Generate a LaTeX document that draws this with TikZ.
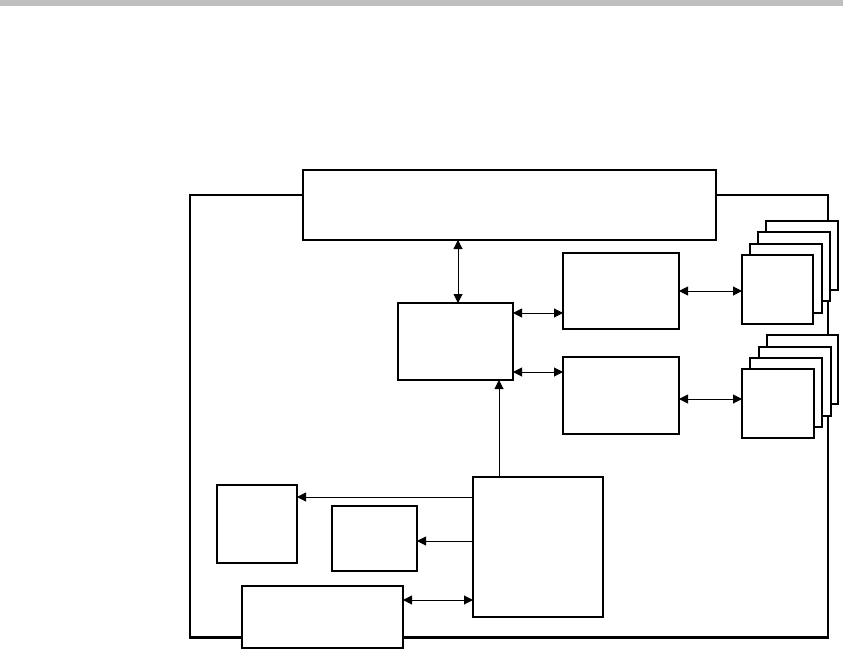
\documentclass[tikz,border=0pt]{standalone}
\usetikzlibrary{arrows.meta}
\begin{document}
\begin{tikzpicture}[x=1pt,y=-1pt,
  box/.style={draw=black,fill=white,line width=1.2pt,inner sep=0pt,outer sep=0pt,anchor=north west},
  tipstyle/.style={-{Triangle[length=9pt,width=9pt]}},
  dbl/.style={{Triangle[length=9pt,width=9pt]}-{Triangle[length=9pt,width=9pt]}},
  conn/.style={line width=1pt,black}]
\useasboundingbox (0,0) rectangle (843,650);
\fill[fill={rgb,255:red,191;green,191;blue,191}] (0,0) rectangle (843,6);
% outer frame
\draw[line width=1.2pt] (828,637) -- (190,637) -- (190,195) -- (828,195);
\draw[line width=2.4pt] (828,194) -- (828,638) -- (189,638);
% boxes
\node[box,minimum width=413pt,minimum height=70pt] (top) at (303,170) {};
\node[box,minimum width=115pt,minimum height=77pt] (A) at (398,303) {};
\node[box,minimum width=116pt,minimum height=76pt] (B) at (563,253) {};
\node[box,minimum width=116pt,minimum height=77pt] (C) at (563,357) {};
\node[box,minimum width=130pt,minimum height=140pt] (D) at (473,477) {};
\node[box,minimum width=80pt,minimum height=78pt] (E) at (217,485) {};
\node[box,minimum width=85pt,minimum height=65pt] (F) at (332,506) {};
\node[box,minimum width=161pt,minimum height=62pt] (G) at (242,586) {};
% stack 1
\node[box,minimum width=72pt,minimum height=69pt] (s1d) at (766,221) {};
\node[box,minimum width=72pt,minimum height=69pt] (s1c) at (758,232) {};
\node[box,minimum width=72pt,minimum height=69pt] (s1b) at (750,244) {};
\node[box,minimum width=71pt,minimum height=69pt] (s1) at (742,255) {};
% stack 2
\node[box,minimum width=71pt,minimum height=69pt] (s2d) at (767,335) {};
\node[box,minimum width=72pt,minimum height=69pt] (s2c) at (759,347) {};
\node[box,minimum width=72pt,minimum height=69pt] (s2b) at (750,358) {};
\node[box,minimum width=72pt,minimum height=69pt] (s2) at (742,369) {};
% connectors
\draw[conn,dbl] ([xshift=2.5pt]A.north |- top.south) -- ([xshift=2.5pt]A.north);
\draw[conn,dbl] ([yshift=28.5pt]A.east) -- ([yshift=28.5pt]A.east -| B.west);
\draw[conn,dbl] ([yshift=-30.5pt]A.east) -- ([yshift=-30.5pt]A.east -| C.west);
\draw[conn,dbl] (B.east) -- (B.east -| s1.west);
\draw[conn,dbl] ([yshift=-3.5pt]C.east) -- ([yshift=-3.5pt]C.east -| s2.west);
\draw[conn,tipstyle] ([xshift=43.5pt]A.south |- D.north) -- ([xshift=43.5pt]A.south);
\draw[conn,tipstyle] ([yshift=50pt]D.west) -- ([yshift=50pt]D.west -| E.east);
\draw[conn,tipstyle] ([yshift=6pt]D.west) -- ([yshift=6pt]D.west -| F.east);
\draw[conn,dbl] ([yshift=-53pt]D.west) -- ([yshift=-53pt]D.west -| G.east);
\end{tikzpicture}
\end{document}
